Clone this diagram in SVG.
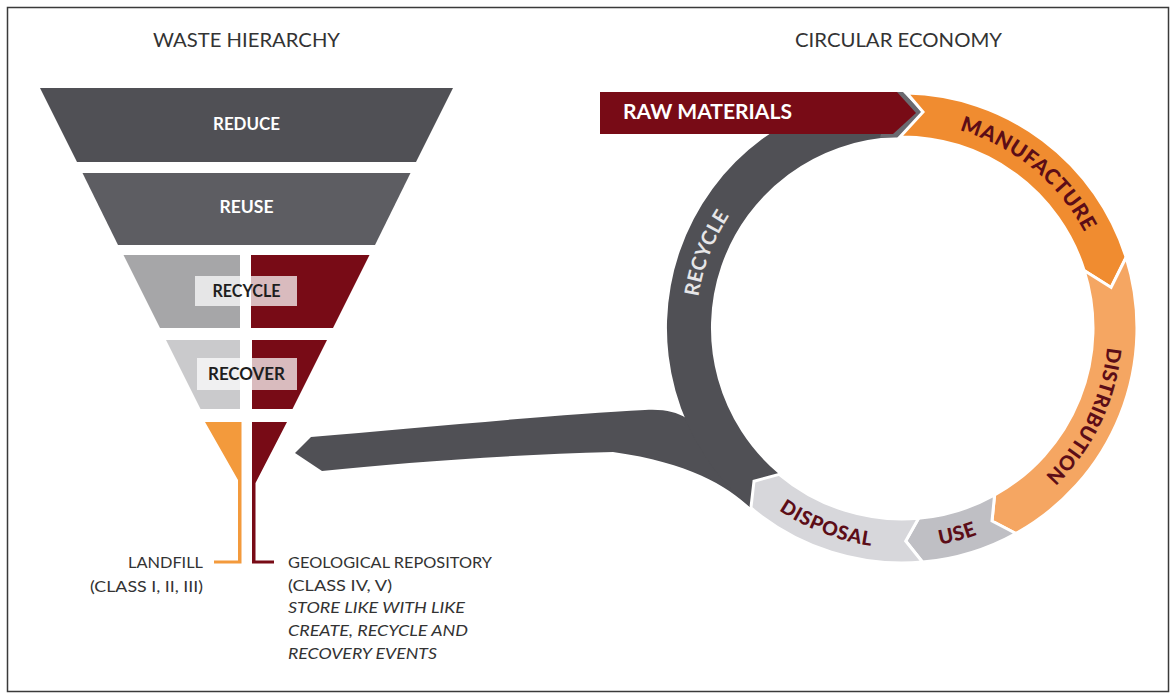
<svg xmlns="http://www.w3.org/2000/svg" width="1176" height="699" viewBox="0 0 1176 699">
<style>
.title{font-family:Lato,"Open Sans","Liberation Sans",sans-serif;font-size:19px;fill:#333;}
.tier{font-family:Lato,"Open Sans","Liberation Sans",sans-serif;font-size:16.5px;font-weight:bold;text-anchor:middle;}
.lbl{font-family:Lato,"Open Sans","Liberation Sans",sans-serif;font-size:15.5px;fill:#333;}
.ring{font-family:Lato,"Open Sans","Liberation Sans",sans-serif;font-weight:900;fill:#5c0d17;}
.seg{stroke:#ffffff;stroke-width:3;stroke-linejoin:miter;}
.box{fill:#ffffff;fill-opacity:0.72;}
</style>
<defs>
<path id="pManu" d="M 899.5,122 A 206 206 0 0 1 1104.4,289.7"/>
<path id="pDist" d="M 1101.6,277.1 A 206 206 0 0 1 986.8,515.7"/>
<path id="pRecy" d="M 707.2,395.1 A 206 206 0 0 1 802.1,147.8"/>
<path id="pUse" d="M 882.8,547.2 A 220 220 0 0 0 1028.2,508.2"/>
<path id="pDisp" d="M 757.7,494 A 220 220 0 0 0 898.2,548"/>
</defs>
<rect x="0" y="0" width="1176" height="699" fill="#ffffff"/>
<rect x="7.5" y="7.5" width="1161" height="684" fill="none" stroke="#3a3a3a" stroke-width="1.5"/>

<text id="title-waste" class="title" x="153" y="47" textLength="187" lengthAdjust="spacingAndGlyphs">WASTE HIERARCHY</text>
<text id="title-circular" class="title" x="795" y="47" textLength="207" lengthAdjust="spacingAndGlyphs">CIRCULAR ECONOMY</text>

<g id="reduce">
<polygon points="40,88 453,88 416,162 77,162" fill="#505055"/>
<text class="tier" x="246.5" y="130" fill="#ffffff" textLength="67" lengthAdjust="spacingAndGlyphs">REDUCE</text>
</g>
<g id="reuse">
<polygon points="82.5,173 410.5,173 375,245 118,245" fill="#5d5d62"/>
<text class="tier" x="246.5" y="213" fill="#ffffff" textLength="54" lengthAdjust="spacingAndGlyphs">REUSE</text>
</g>
<g id="recycle-tier">
<polygon points="123.5,255 240,255 240,328 160,328" fill="#a6a6a8"/>
<polygon points="251,255 369.5,255 333,328 251,328" fill="#780b16"/>
<rect class="box" x="195" y="276" width="102" height="30"/>
<text class="tier" x="246.5" y="297" fill="#1e1e1e" textLength="68" lengthAdjust="spacingAndGlyphs">RECYCLE</text>
</g>
<g id="recover-tier">
<polygon points="166,340 240,340 240,409 200.5,409" fill="#cacacc"/>
<polygon points="252,340 327,340 292.5,409 252,409" fill="#780b16"/>
<rect class="box" x="197" y="358" width="100" height="32"/>
<text class="tier" x="246.5" y="380" fill="#1e1e1e" textLength="77" lengthAdjust="spacingAndGlyphs">RECOVER</text>
</g>
<g id="landfill">
<polygon points="205,422 241.5,422 241.5,563.5 214,563.5 214,560.5 238,560.5 238,480" fill="#f39a3c"/>
<text class="lbl" x="203" y="568" text-anchor="end" textLength="75" lengthAdjust="spacingAndGlyphs">LANDFILL</text>
<text class="lbl" x="203" y="592" text-anchor="end" textLength="113" lengthAdjust="spacingAndGlyphs">(CLASS I, II, III)</text>
</g>
<g id="geological">
<polygon points="252,422 287,422 255.5,483 255.5,560.5 274,560.5 274,563.5 252,563.5" fill="#780b16"/>
<text class="lbl" x="288" y="568" textLength="204" lengthAdjust="spacingAndGlyphs">GEOLOGICAL REPOSITORY</text>
<text class="lbl" x="288" y="591" textLength="104" lengthAdjust="spacingAndGlyphs">(CLASS IV, V)</text>
<text class="lbl" x="288" y="613" font-style="italic" textLength="177" lengthAdjust="spacingAndGlyphs">STORE LIKE WITH LIKE</text>
<text class="lbl" x="288" y="636" font-style="italic" textLength="180" lengthAdjust="spacingAndGlyphs">CREATE, RECYCLE AND</text>
<text class="lbl" x="288" y="659" font-style="italic" textLength="149" lengthAdjust="spacingAndGlyphs">RECOVERY EVENTS</text>
</g>

<g id="connectors">
<path id="waste-to-disposal" d="M 295,453 L 311,437 C 420,428 560,414 645,410 C 665,409 676,412 686,418 L 720,440 L 751,508 C 725,485 690,463 613,452 C 500,455 400,463 322,471 Z" fill="#505055"/>
</g>

<g id="recycle">
<path d="M 750.9,508 A 235 235 0 0 1 893.8,93.1 L 895.3,137.1 A 191 191 0 0 0 779.2,474.3 L 754,481.2 Z" fill="#505055"/>
<polygon points="893,92 903,92 923,113 898,137.5 880,137.5" fill="#6a6a70"/>
<text class="ring" font-size="20" letter-spacing="0.5" style="fill:#e6e6e8;font-weight:bold"><textPath href="#pRecy" startOffset="50%" text-anchor="middle">RECYCLE</textPath></text>
</g>

<g id="raw-materials">
<polygon points="600,92 897,92 916,113 893,134 600,134" fill="#780b16"/>
<text x="623" y="119" font-family="Lato,'Open Sans','Liberation Sans',sans-serif" font-size="20" font-weight="bold" fill="#ffffff" textLength="169" lengthAdjust="spacingAndGlyphs">RAW MATERIALS</text>
</g>

<g id="manufacture">
<path class="seg" d="M 907,93.1 A 235 235 0 0 1 1126.1,257.3 L 1111.1,287.4 L 1084.2,270.6 A 191 191 0 0 0 900,137 L 923,112 Z" fill="#f08c30"/>
<text class="ring" font-size="21" letter-spacing="0.6"><textPath href="#pManu" startOffset="50%" text-anchor="middle">MANUFACTURE</textPath></text>
</g>
<g id="distribution">
<path class="seg" d="M 1126.1,257.3 A 235 235 0 0 1 1015.9,533.5 L 992,521 L 994.6,495 A 191 191 0 0 0 1084.2,270.6 L 1111.1,287.4 Z" fill="#f5a662"/>
<text class="ring" font-size="20" letter-spacing="0.4"><textPath href="#pDist" startOffset="50%" text-anchor="middle">DISTRIBUTION</textPath></text>
</g>
<g id="use">
<path class="seg" d="M 1015.9,533.5 A 235 235 0 0 1 922.5,562.1 L 905.7,541 L 918.6,518.3 A 191 191 0 0 0 994.6,495 L 992,521 Z" fill="#bfbfc4"/>
<text class="ring" font-size="20" letter-spacing="0.5"><textPath href="#pUse" startOffset="50%" text-anchor="middle">USE</textPath></text>
</g>
<g id="disposal">
<path class="seg" d="M 922.5,562.1 A 235 235 0 0 1 750.9,508 L 754,481.2 L 779.2,474.3 A 191 191 0 0 0 918.6,518.3 L 905.7,541 Z" fill="#d7d7db"/>
<text class="ring" font-size="19.5" letter-spacing="0.8"><textPath href="#pDisp" startOffset="50%" text-anchor="middle">DISPOSAL</textPath></text>
</g>
</svg>
